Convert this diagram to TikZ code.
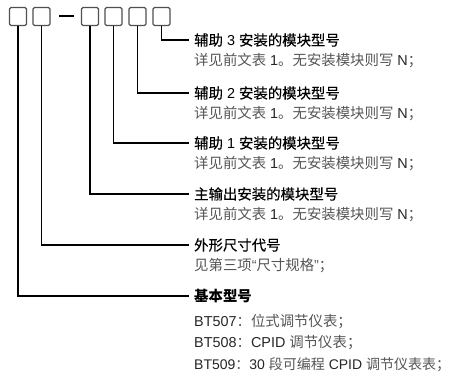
\documentclass[tikz,border=0pt]{standalone}
\usepackage{fontspec}
\setmainfont{Liberation Sans}
\newfontfamily\cjk{Noto Sans CJK SC}
\newfontfamily\cjkt{Noto Sans CJK SC}[FakeBold=0.3]
\newcommand\zh[1]{{\cjk #1}}
\newcommand\zt[1]{{\cjkt #1}}
\definecolor{subgray}{HTML}{555555}
\definecolor{boxgray}{HTML}{505050}
\tikzset{
  codebox/.style={draw=boxgray, line width=1.1pt, rounded corners=1.5pt,
    minimum width=17pt, minimum height=18pt, inner sep=0pt},
  lead/.style={line width=1.7pt, black},
  titletext/.style={anchor=west, inner sep=0pt, font=\fontsize{14.4}{15}\selectfont, text=black},
  subtext/.style={anchor=west, inner sep=0pt, font=\fontsize{14.4}{15}\selectfont, text=subgray},
}
\begin{document}
\begin{tikzpicture}[x=1pt,y=-1pt]
\useasboundingbox (0,0) rectangle (455,379);
% code boxes
\node[codebox] (b1) at (18,16.5) {};
\node[codebox] (b2) at (41.5,16.5) {};
\coordinate (d1) at (59,16);
\coordinate (d2) at (74,16);
\draw[lead] (d1) -- (d2);
\node[codebox] (b3) at (90,16.5) {};
\node[codebox] (b4) at (113.5,16.5) {};
\node[codebox] (b5) at (137.5,16.5) {};
\node[codebox] (b6) at (161.5,16.5) {};
% titles
\node[titletext] (t6) at (194,40) {\zt{辅助} 3 \zt{安装的模块型号}};
\node[subtext] (s6) at (194,61) {\zh{详见前文表} {\color{black!85}1}\zh{。无安装模块则写} {\color{black!85}N}\zh{；}};
\node[titletext] (t5) at (194,93) {\zt{辅助} 2 \zt{安装的模块型号}};
\node[subtext] (s5) at (194,114) {\zh{详见前文表} {\color{black!85}1}\zh{。无安装模块则写} {\color{black!85}N}\zh{；}};
\node[titletext] (t4) at (194,143) {\zt{辅助} 1 \zt{安装的模块型号}};
\node[subtext] (s4) at (194,164) {\zh{详见前文表} {\color{black!85}1}\zh{。无安装模块则写} {\color{black!85}N}\zh{；}};
\node[titletext] (t3) at (194,194) {\zt{主输出安装的模块型号}};
\node[subtext] (s3) at (194,215) {\zh{详见前文表} {\color{black!85}1}\zh{。无安装模块则写} {\color{black!85}N}\zh{；}};
\node[titletext] (t2) at (194,245) {\zt{外形尺寸代号}};
\node[subtext] (s2) at (194,266) {\zh{见第三项}“\zh{尺寸规格}”\zh{；}};
\node[titletext] (t1) at (194,296) {\zh{\bfseries 基本型号}};
\node[subtext] (s1a) at (194,322) {{\color{black!85}BT507}\zh{：位式调节仪表；}};
\node[subtext] (s1b) at (194,343) {{\color{black!85}BT508}\zh{：}{\color{black!85}CPID} \zh{调节仪表；}};
\node[subtext, font=\fontsize{14}{15}\selectfont] (s1c) at (194,365) {{\color{black!85}BT509}\zh{：}{\color{black!85}30} \zh{段可编程} {\color{black!85}CPID} \zh{调节仪表表}\rlap{\zh{；}}};
% leaders
\draw[lead] (b6.south) |- ([xshift=-5pt]t6.west);
\draw[lead] (b5.south) |- ([xshift=-5pt]t5.west);
\draw[lead] (b4.south) |- ([xshift=-5pt]t4.west);
\draw[lead] (b3.south) |- ([xshift=-5pt]t3.west);
\draw[lead] (b2.south) |- ([xshift=-5pt]t2.west);
\draw[lead] (b1.south) |- ([xshift=-5pt]t1.west);
\end{tikzpicture}
\end{document}
